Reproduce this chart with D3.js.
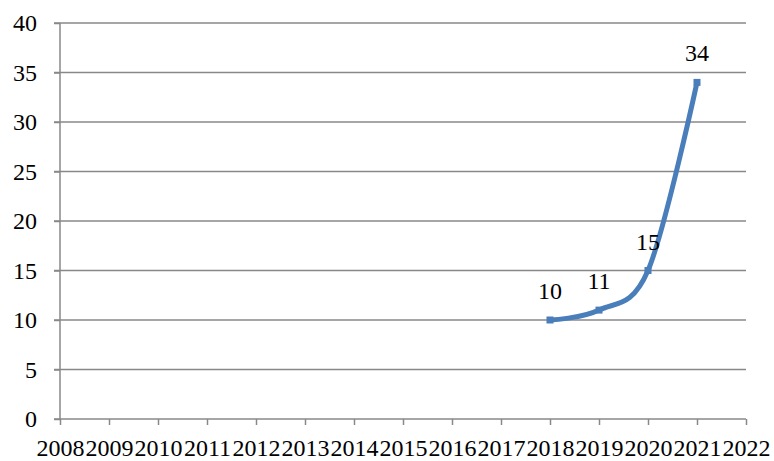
<!DOCTYPE html>
<html>
<head>
<meta charset="utf-8">
<script src="https://cdn.jsdelivr.net/npm/d3@7"></script>
<style>
  body { margin: 0; background: #fff; }
  #chart text { font-family: 'Liberation Serif', 'Times New Roman', Times, 'DejaVu Serif', serif !important; font-size: 24px; fill: #000; }
</style>
</head>
<body>
<svg id="chart" width="774" height="461"></svg>
<script>
const years = [2018, 2019, 2020, 2021];
const counts = [10, 11, 15, 34];
const xTicks = d3.range(2008, 2023);
const yTicks = [0, 5, 10, 15, 20, 25, 30, 35, 40];

const margin = {top: 23, right: 28, bottom: 42, left: 60};
const width = 774, height = 461;
const svg = d3.select("#chart");

const x = d3.scaleLinear().domain([2008, 2022]).range([margin.left, width - margin.right]);
const y = d3.scaleLinear().domain([0, 40]).range([height - margin.bottom, margin.top]);

const grid = "#888888";

// horizontal gridlines with left tick stubs
svg.append("g")
  .selectAll("line")
  .data(yTicks.filter(d => d > 0))
  .join("line")
  .attr("x1", margin.left - 6)
  .attr("x2", width - margin.right)
  .attr("y1", d => y(d))
  .attr("y2", d => y(d))
  .attr("stroke", grid)
  .attr("stroke-width", 1.5);

// y axis
const yAxis = svg.append("g")
  .attr("transform", `translate(${margin.left},0)`)
  .call(d3.axisLeft(y).tickValues(yTicks).tickSize(6).tickPadding(17).tickFormat(d3.format("d")));
yAxis.attr("font-family", null).attr("font-size", null);
yAxis.selectAll("path, line").attr("stroke", grid).attr("stroke-width", 1.5);
yAxis.select(".domain").attr("d", `M0,${y(40)}V${y(0)}`);
yAxis.selectAll("text").attr("dy", "0.33em");

// x axis
const xAxis = svg.append("g")
  .attr("transform", `translate(0,${y(0)})`)
  .call(d3.axisBottom(x).tickValues(xTicks).tickSize(6).tickFormat(d3.format("d")));
xAxis.attr("font-family", null).attr("font-size", null);
xAxis.selectAll("path, line").attr("stroke", grid).attr("stroke-width", 1.5);
xAxis.select(".domain").attr("d", `M${x(2008) - 6},0H${x(2022)}`);
xAxis.selectAll("text").attr("y", 37).attr("dy", 0);

const pts = years.map((yr, i) => ({yr, v: counts[i]}));

// Excel-style smoothed line (uniform Catmull-Rom)
const line = d3.line()
  .x(d => x(d.yr))
  .y(d => y(d.v))
  .curve(d3.curveCatmullRom.alpha(0));

svg.append("path")
  .datum(pts)
  .attr("d", line)
  .attr("fill", "none")
  .attr("stroke", "#4a7ebb")
  .attr("stroke-width", 5)
  .attr("stroke-linecap", "round");

svg.append("g")
  .selectAll("rect")
  .data(pts)
  .join("rect")
  .attr("x", d => x(d.yr) - 3.5)
  .attr("y", d => y(d.v) - 3.5)
  .attr("width", 7)
  .attr("height", 7)
  .attr("fill", "#4a7ebb");

svg.append("g")
  .selectAll("text")
  .data(pts)
  .join("text")
  .attr("x", d => x(d.yr))
  .attr("y", d => y(d.v) - 21)
  .attr("text-anchor", "middle")
  .text(d => d.v);
</script>
</body>
</html>
